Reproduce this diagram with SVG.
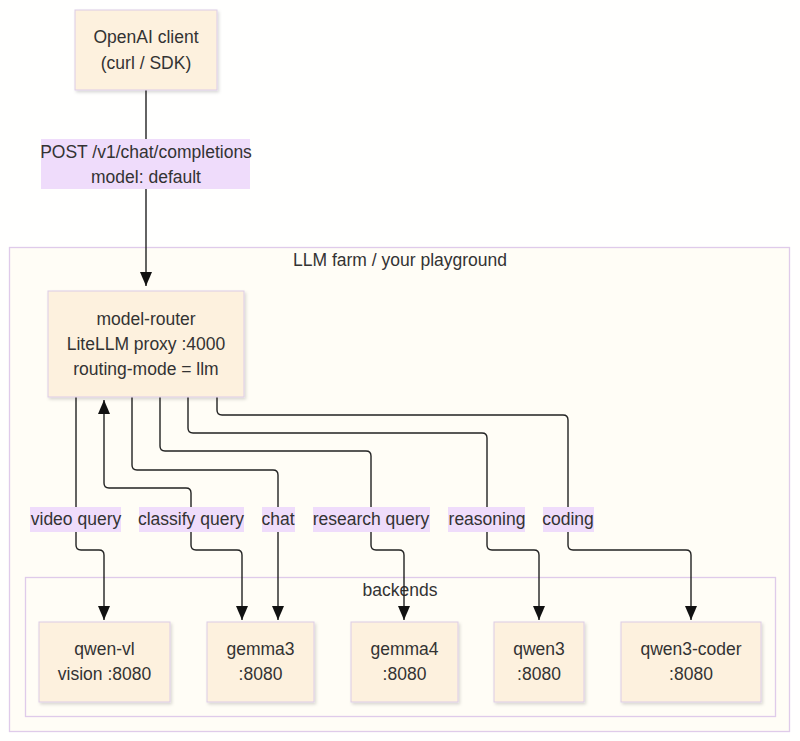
<svg xmlns="http://www.w3.org/2000/svg" width="800" height="741" viewBox="0 0 800 741">
<style>
text{font-family:"Liberation Sans",Arial,sans-serif;font-size:17.5px;fill:#333;text-anchor:middle}
.node rect{fill:#fdf1de;stroke:#dccbe6;stroke-width:1;filter:url(#sh)}
.cluster{fill:#fffdf6;stroke:#dfcbea;stroke-width:1.3}
.edge{fill:none;stroke:#222;stroke-width:1.4}
.lbl{fill:#efdcfb}
</style>
<defs>
<filter id="sh" x="-10%" y="-10%" width="130%" height="130%">
<feDropShadow dx="1.5" dy="2" stdDeviation="1.5" flood-color="#000" flood-opacity="0.15"/>
</filter>
<marker id="ah" viewBox="0 0 14 12" refX="14" refY="6" markerWidth="14" markerHeight="12" markerUnits="userSpaceOnUse" orient="auto-start-reverse">
<path d="M0,0 L14,6 L0,12 z" fill="#111"/>
</marker>
</defs>
<rect fill="#fffffe" x="0" y="0" width="800" height="741"/>
<g id="cluster-farm">
<rect class="cluster" x="9.5" y="247.5" width="780" height="484"/>
<text x="400" y="266">LLM farm / your playground</text>
</g>
<g id="cluster-backends">
<rect class="cluster" x="25.5" y="577.5" width="750" height="139"/>
<text x="400" y="596">backends</text>
</g>
<g id="connectors">
<path class="edge" d="M146,90 V286" marker-end="url(#ah)"/>
<path class="edge" d="M76,397 V545 Q76,550 81,550 H99 Q104,550 104,555 V620" marker-end="url(#ah)"/>
<path class="edge" d="M104,400 V483 Q104,488 109,488 H186 Q191,488 191,493 V545 Q191,550 196,550 H237 Q242,550 242,555 V620" marker-start="url(#ah)" marker-end="url(#ah)"/>
<path class="edge" d="M132,397 V465 Q132,470 137,470 H273 Q278,470 278,475 V620" marker-end="url(#ah)"/>
<path class="edge" d="M160,397 V446 Q160,451 165,451 H366 Q371,451 371,456 V545 Q371,550 376,550 H399 Q404,550 404,555 V620" marker-end="url(#ah)"/>
<path class="edge" d="M188,397 V428 Q188,433 193,433 H482 Q487,433 487,438 V545 Q487,550 492,550 H534 Q539,550 539,555 V620" marker-end="url(#ah)"/>
<path class="edge" d="M217,397 V410 Q217,415 222,415 H563 Q568,415 568,420 V545 Q568,550 573,550 H686 Q691,550 691,555 V620" marker-end="url(#ah)"/>
<rect class="lbl" x="41" y="139" width="209" height="50"/>
<text x="146" y="158">POST /v1/chat/completions</text>
<text x="146" y="183">model: default</text>
<rect class="lbl" x="30" y="507" width="91" height="25"/>
<text x="76" y="525">video query</text>
<rect class="lbl" x="139" y="507" width="105" height="25"/>
<text x="191" y="525">classify query</text>
<rect class="lbl" x="262" y="507" width="33" height="25"/>
<text x="278" y="525">chat</text>
<rect class="lbl" x="313" y="507" width="117" height="25"/>
<text x="371" y="525">research query</text>
<rect class="lbl" x="448" y="507" width="77" height="25"/>
<text x="487" y="525">reasoning</text>
<rect class="lbl" x="543" y="507" width="51" height="25"/>
<text x="568" y="525">coding</text>
</g>
<g id="openai-client" class="node">
<rect x="75" y="10" width="142" height="80"/>
<text x="146" y="43">OpenAI client</text>
<text x="146" y="69">(curl / SDK)</text>
</g>
<g id="model-router" class="node">
<rect x="48" y="291" width="196" height="106"/>
<text x="146" y="325">model-router</text>
<text x="146" y="350">LiteLLM proxy :4000</text>
<text x="146" y="375">routing-mode = llm</text>
</g>
<g id="qwen-vl" class="node">
<rect x="39" y="622" width="131" height="80"/>
<text x="104.5" y="655">qwen-vl</text>
<text x="104.5" y="680">vision :8080</text>
</g>
<g id="gemma3" class="node">
<rect x="207" y="622" width="107" height="80"/>
<text x="260.5" y="655">gemma3</text>
<text x="260.5" y="680">:8080</text>
</g>
<g id="gemma4" class="node">
<rect x="351" y="622" width="107" height="80"/>
<text x="404.5" y="655">gemma4</text>
<text x="404.5" y="680">:8080</text>
</g>
<g id="qwen3" class="node">
<rect x="494" y="622" width="90" height="80"/>
<text x="539" y="655">qwen3</text>
<text x="539" y="680">:8080</text>
</g>
<g id="qwen3-coder" class="node">
<rect x="621" y="622" width="140" height="80"/>
<text x="691" y="655">qwen3-coder</text>
<text x="691" y="680">:8080</text>
</g>
</svg>
